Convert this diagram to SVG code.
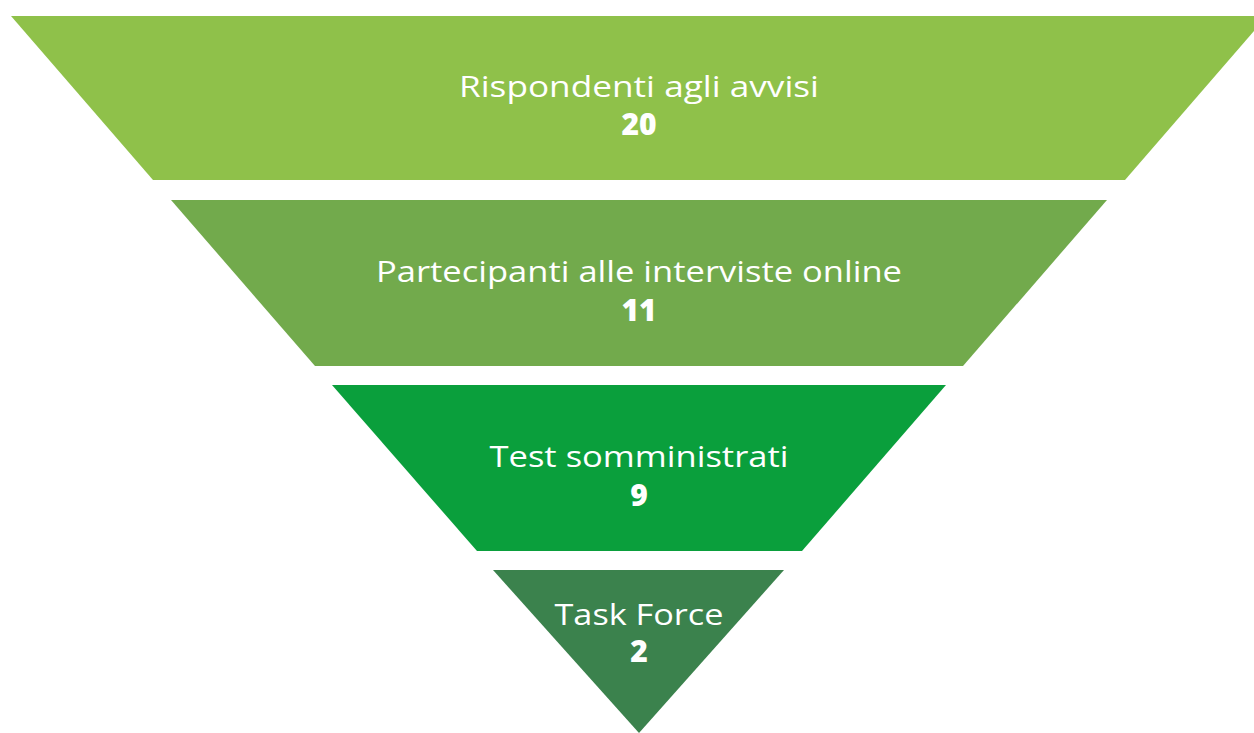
<svg xmlns="http://www.w3.org/2000/svg" width="1254" height="733" viewBox="0 0 1254 733">
<style>
.lbl{font-family:"Open Sans","Liberation Sans",sans-serif;font-size:30px;fill:#ffffff;text-anchor:middle}
.num{font-family:"Open Sans","Liberation Sans",sans-serif;font-size:30px;font-weight:800;fill:#ffffff;text-anchor:middle}
</style>
<rect width="1254" height="733" fill="#ffffff"/>
<g id="connectors"></g>
<g id="level1">
<polygon points="11,16 1267,16 1125,180 153,180" fill="#8FC14A"/>
<text class="lbl" x="639" y="97" textLength="360" lengthAdjust="spacingAndGlyphs">Rispondenti agli avvisi</text>
<text class="num" x="639" y="135">20</text>
</g>
<g id="level2">
<polygon points="171,200 1107,200 963,366 315,366" fill="#72AA4C"/>
<text class="lbl" x="639" y="282" textLength="526" lengthAdjust="spacingAndGlyphs">Partecipanti alle interviste online</text>
<text class="num" x="639" y="321">11</text>
</g>
<g id="level3">
<polygon points="332,385 946,385 802,551 477,551" fill="#0A9F3C"/>
<text class="lbl" x="639" y="467" textLength="299" lengthAdjust="spacingAndGlyphs">Test somministrati</text>
<text class="num" x="639" y="506">9</text>
</g>
<g id="level4">
<polygon points="493,570 784,570 639,733" fill="#3B824D"/>
<text class="lbl" x="639" y="625" textLength="169" lengthAdjust="spacingAndGlyphs">Task Force</text>
<text class="num" x="639" y="662">2</text>
</g>
</svg>
